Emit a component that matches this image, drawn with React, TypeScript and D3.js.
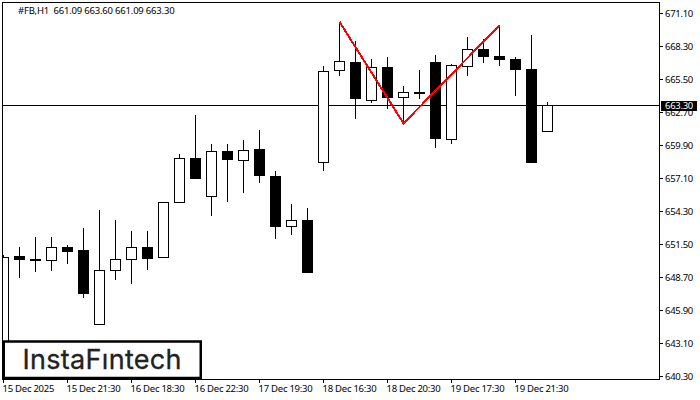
import * as d3 from 'd3';

const title = '#FB,H1  661.09 663.60 661.09 663.30';
const brand = 'InstaF\u0131ntech';

const opens = [642.55, 650.48, 650.23, 650.17, 651.25, 650.99, 644.74, 649.32, 650.25, 651.25, 650.42, 655.09, 658.8, 655.6, 659.39, 658.65, 659.56, 657.27, 653.05, 653.54, 658.48, 666.29, 666.94, 663.74, 666.52, 664.0, 664.4, 666.94, 660.43, 666.63, 668.05, 667.45, 667.2, 666.35, 661.09];
const highs = [650.69, 651.29, 652.22, 652.14, 651.54, 652.98, 654.51, 653.66, 652.73, 652.65, 655.04, 659.18, 662.49, 660.11, 660.03, 660.37, 661.22, 657.82, 654.94, 654.6, 666.65, 670.46, 668.77, 667.24, 667.49, 664.95, 666.39, 667.66, 666.82, 669.19, 668.94, 670.12, 667.41, 669.36, 663.6];
const lows = [642.12, 648.68, 649.19, 649.28, 649.87, 646.99, 644.74, 648.49, 648.15, 649.34, 650.42, 655.09, 657.1, 654.0, 655.11, 655.95, 656.72, 652.05, 652.39, 649.12, 657.74, 665.8, 662.23, 663.51, 663.08, 661.89, 663.85, 659.69, 660.03, 665.8, 666.98, 666.65, 664.1, 658.46, 661.09];
const closes = [650.37, 650.23, 650.14, 651.22, 650.91, 647.34, 649.27, 650.2, 651.22, 650.31, 655.04, 658.77, 657.1, 659.39, 658.71, 659.45, 657.35, 653.03, 653.51, 649.12, 666.15, 667.0, 663.89, 666.49, 663.97, 664.37, 664.31, 660.49, 666.66, 668.02, 667.45, 667.2, 666.35, 658.46, 663.3];

const priceTicks = [671.1, 668.3, 665.5, 662.7, 659.9, 657.1, 654.3, 651.5, 648.7, 645.9, 643.1, 640.3];
const lastPrice = 663.3;

const timeLabels = ['15 Dec 2025', '15 Dec 21:30', '16 Dec 18:30', '16 Dec 22:30', '17 Dec 19:30', '18 Dec 16:30', '18 Dec 20:30', '19 Dec 17:30', '19 Dec 21:30'];
const timeIndex = [0, 4, 8, 12, 16, 20, 24, 28, 32];

const patternIndex = [21, 25, 31];
const patternPrice = [670.4, 661.78, 670.1];

const font = '"Noto Sans", sans-serif';

export default function App() {
    const x = d3.scaleLinear().domain([0, 34]).range([3.5, 547.5]);
    const y = d3.scaleLinear().domain([640.3, 671.1]).range([376.5, 13.5]);
    const py = (v: number) => Math.floor(y(v)) + 0.5;

    const pattern = d3.line<number>()
        .x(i => x(patternIndex[i]))
        .y(i => y(patternPrice[i]))(patternIndex.map((_, i) => i)) || '';

    return (
        <svg width={700} height={400} style={{ position: 'absolute', left: 0, top: 0, background: '#fff' }} fontFamily={font}>
            <defs>
                <clipPath id="plot">
                    <rect x={2} y={2} width={658} height={378} />
                </clipPath>
            </defs>

            {/* last price line sits behind the candles */}
            <line x1={2} x2={660} y1={py(lastPrice)} y2={py(lastPrice)} stroke="#000" />

            <g clipPath="url(#plot)" shapeRendering="crispEdges">
                {opens.map((o, i) => {
                    const c = closes[i];
                    const top = py(Math.max(o, c));
                    const bottom = py(Math.min(o, c));
                    return (
                        <g key={i}>
                            <line x1={x(i)} x2={x(i)} y1={py(highs[i])} y2={py(lows[i])} stroke="#000" />
                            <rect x={x(i) - 5} y={top} width={10} height={bottom - top} fill={c < o ? '#000' : '#fff'} stroke="#000" />
                        </g>
                    );
                })}
            </g>

            <path d={pattern} fill="none" stroke="#f00" strokeWidth={2} shapeRendering="crispEdges" />

            <rect x={2.5} y={2.5} width={657} height={377} fill="none" stroke="#000" shapeRendering="crispEdges" />

            <text x={18} y={14} fontSize={9.5} letterSpacing={-0.2} fill="#000" style={{ whiteSpace: 'pre' }}>{title}</text>

            {priceTicks.map(t => (
                <g key={t}>
                    <line x1={660} x2={663} y1={py(t)} y2={py(t)} stroke="#000" />
                    <text x={665} y={py(t) + 3.5} fontSize={9.5} letterSpacing={-0.3} fill="#000">{t.toFixed(2)}</text>
                </g>
            ))}

            <rect x={661} y={101} width={36} height={10} fill="#000" />
            <text x={665} y={py(lastPrice) + 3.5} fontSize={9.5} letterSpacing={-0.3} fill="#fff">{lastPrice.toFixed(2)}</text>

            {timeIndex.map((idx, i) => (
                <g key={idx}>
                    <line x1={x(idx)} x2={x(idx)} y1={380} y2={383} stroke="#000" />
                    <text x={x(idx) - 1} y={392} fontSize={9.5} letterSpacing={-0.25} fill="#000">{timeLabels[i]}</text>
                </g>
            ))}

            <rect x={3.75} y={341.5} width={197} height={36.5} fill="#fff" stroke="#000" strokeWidth={2.5} />
            <text x={22.5} y={369} fontFamily="Inter, sans-serif" fontSize={27} fontWeight={400} stroke="#222" strokeWidth={0.3} fill="#222" textLength={159} lengthAdjust="spacing">{brand}</text>
        </svg>
    );
}
